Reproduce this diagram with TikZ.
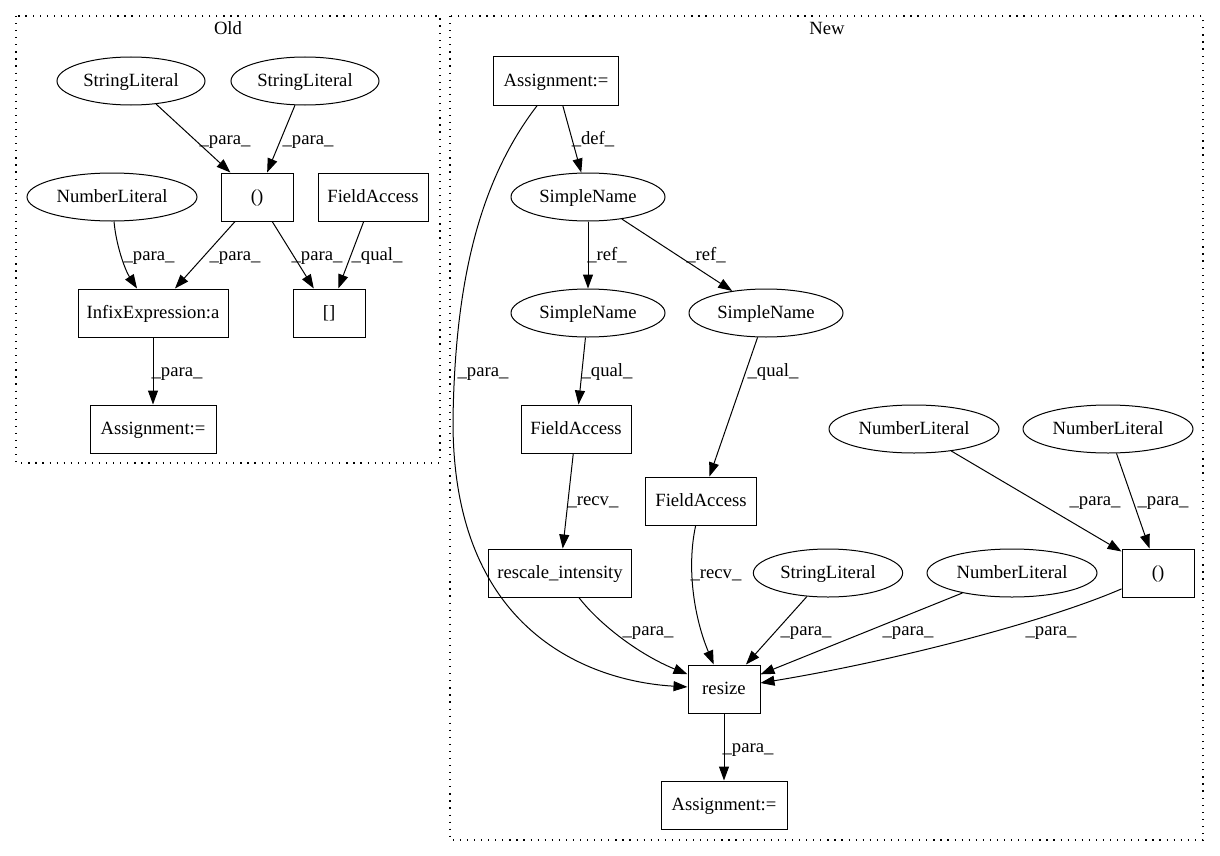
\documentclass[tikz,border=0pt]{standalone}
\usepackage{fontspec}
\setmainfont{Liberation Serif}
\usetikzlibrary{arrows.meta,shapes.geometric}
\begin{document}
\begin{tikzpicture}[x=0.75pt,y=-0.75pt,
  every node/.style={font=\fontsize{14pt}{16pt}\selectfont},
  box/.style={draw,rectangle,minimum height=36pt,inner sep=0pt,line width=0.75pt,text height=10pt,text depth=2.5pt},
  oval/.style={draw,ellipse,minimum height=36pt,inner sep=0pt,line width=0.75pt,text height=10pt,text depth=2.5pt},
  e/.style={draw,line width=0.75pt,-{Triangle[length=10.5pt,width=7.5pt]}},
  lbl/.style={inner sep=0pt,text height=10pt,text depth=2.5pt},
  cluster/.style={draw,line width=0.9pt,dash pattern=on 0.9pt off 4.4pt}]
\useasboundingbox (0,0) rectangle (1220,856);

% clusters
\draw[cluster] (16,16) rectangle (440,463);
\draw[cluster] (450,16) rectangle (1203,840);
\node[lbl] (oldlbl) at (228,30) {Old};
\node[lbl] (newlbl) at (827,30) {New};

% ---- Old ----
\node[oval,minimum width=111pt] (osl1) at (131,81) {StringLiteral};
\node[oval,minimum width=111pt] (osl2) at (305,81) {StringLiteral};
\node[box,minimum width=54pt] (opar) at (257,197) {()};
\node[box,minimum width=82.5pt] (ofa) at (373,197) {FieldAccess};
\node[oval,minimum width=127.5pt] (onl) at (112,197) {NumberLiteral};
\node[box,minimum width=112.5pt] (oinf) at (153,313) {InfixExpression:a};
\node[box,minimum width=54pt] (oidx) at (329,313) {[]};
\node[box,minimum width=94.5pt] (oas) at (153,429) {Assignment:=};

\draw[e] (osl1) -- (opar);
\draw[e] (osl2) -- (opar);
\draw[e] (onl) .. controls (116,245) and (125,270) .. (oinf);
\draw[e] (opar) -- (oinf);
\draw[e] (opar) -- (oidx);
\draw[e] (ofa) -- (oidx);
\draw[e] (oinf) -- (oas);

\node[lbl] (l1) at (225,139) {\_para\_};
\node[lbl] (l2) at (308,139) {\_para\_};
\node[lbl] (l3) at (149,255) {\_para\_};
\node[lbl] (l4) at (235,255) {\_para\_};
\node[lbl] (l5) at (317,255) {\_para\_};
\node[lbl] (l6) at (377,255) {\_qual\_};
\node[lbl] (l7) at (177,371) {\_para\_};

% ---- New ----
\node[box,minimum width=94pt] (nas1) at (556,81) {Assignment:=};
\node[oval,minimum width=115.5pt] (snt) at (588,197) {SimpleName};
\node[oval,minimum width=115.5pt] (snl) at (588,313) {SimpleName};
\node[oval,minimum width=115.5pt] (snr) at (766,313) {SimpleName};
\node[box,minimum width=82.5pt] (fal) at (576,429) {FieldAccess};
\node[box,minimum width=83pt] (far) at (701,501) {FieldAccess};
\node[box,minimum width=107.25pt] (resc) at (560,573) {rescale\_intensity};
\node[box,minimum width=54pt] (rsz) at (724,689) {resize};
\node[box,minimum width=94.5pt] (nas2) at (724,805) {Assignment:=};
\node[oval,minimum width=112pt] (nsl) at (828,573) {StringLiteral};
\node[oval,minimum width=127.5pt] (nnlm) at (1012,573) {NumberLiteral};
\node[box,minimum width=54pt] (npar) at (1158,573) {()};
\node[oval,minimum width=127.5pt] (nnl1) at (914,429) {NumberLiteral};
\node[oval,minimum width=127.5pt] (nnl2) at (1108,429) {NumberLiteral};

\draw[e] (nas1) -- (snt);
\draw[e] (nas1) .. controls (480,180) and (455,280) .. (453,420)
                .. controls (452,640) and (600,682) .. (rsz);
\draw[e] (snt) -- (snl);
\draw[e] (snt) -- (snr);
\draw[e] (snl) -- (fal);
\draw[e] (snr) -- (far);
\draw[e] (fal) -- (resc);
\draw[e] (far) .. controls (686,570) and (695,620) .. (rsz);
\draw[e] (resc) .. controls (600,625) and (640,655) .. (rsz);
\draw[e] (nsl) -- (rsz);
\draw[e] (nnlm) -- (rsz);
\draw[e] (npar) .. controls (1050,620) and (900,660) .. (rsz);
\draw[e] (nnl1) -- (npar);
\draw[e] (nnl2) -- (npar);
\draw[e] (rsz) -- (nas2);

\node[lbl] (m1) at (593,139) {\_def\_};
\node[lbl] (m2) at (483,371) {\_para\_};
\node[lbl] (m3) at (607,255) {\_ref\_};
\node[lbl] (m4) at (706,255) {\_ref\_};
\node[lbl] (m5) at (607,371) {\_qual\_};
\node[lbl] (m6) at (773,371) {\_qual\_};
\node[lbl] (m7) at (593,500) {\_recv\_};
\node[lbl] (m8) at (716,573) {\_recv\_};
\node[lbl] (m9) at (648,630) {\_para\_};
\node[lbl] (m10) at (806,630) {\_para\_};
\node[lbl] (m11) at (908,630) {\_para\_};
\node[lbl] (m12) at (1051,630) {\_para\_};
\node[lbl] (m13) at (1095,500) {\_para\_};
\node[lbl] (m14) at (1163,500) {\_para\_};
\node[lbl] (m15) at (748,747) {\_para\_};
\end{tikzpicture}
\end{document}
